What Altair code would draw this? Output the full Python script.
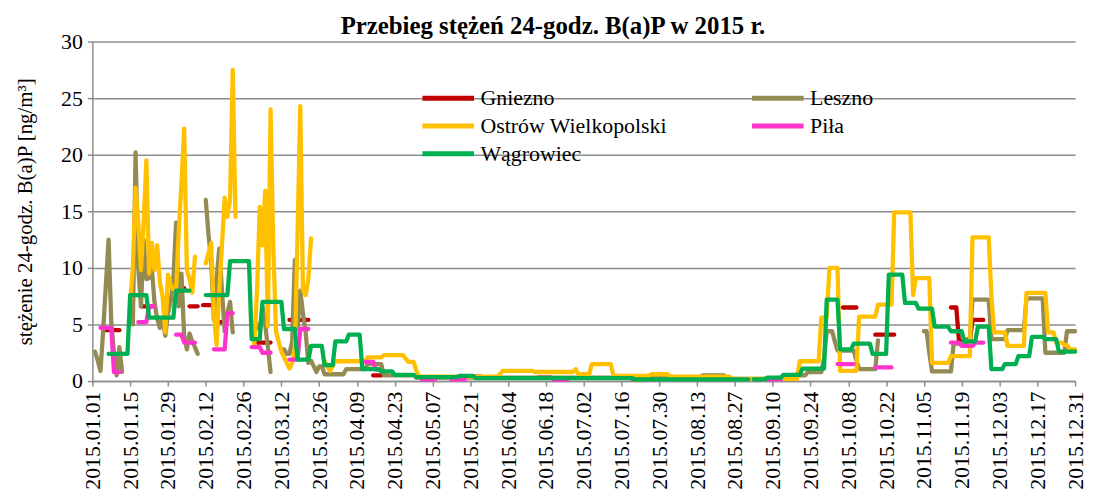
import json
import altair as alt
import pandas as pd

stations = ["Gniezno", "Leszno", "Ostrów Wielkopolski", "Piła", "Wągrowiec"]
colors = ["#C00000", "#948A54", "#FFC000", "#FF33CC", "#00B050"]

tick_days = list(range(0, 365, 14))
tick_labels = [
    "2015.01.01", "2015.01.15", "2015.01.29", "2015.02.12", "2015.02.26",
    "2015.03.12", "2015.03.26", "2015.04.09", "2015.04.23", "2015.05.07",
    "2015.05.21", "2015.06.04", "2015.06.18", "2015.07.02", "2015.07.16",
    "2015.07.30", "2015.08.13", "2015.08.27", "2015.09.10", "2015.09.24",
    "2015.10.08", "2015.10.22", "2015.11.05", "2015.11.19", "2015.12.03",
    "2015.12.17", "2015.12.31",
]
y_ticks = [0, 5, 10, 15, 20, 25, 30]

# each series: list of (first day of year index, daily values); gaps between runs
gniezno = [
    (4, [4.5] * 7),
    (18, [6.6] * 5),
    (31, [8.2] * 4),
    (36, [6.6] * 4),
    (41, [6.7] * 4),
    (46, [5.2] * 4),
    (61, [3.4] * 6),
    (73, [5.4] * 8),
    (104, [0.5] * 4),
    (140, [0.4] * 5),
    (165, [0.3] * 6),
    (200, [0.2] * 6),
    (278, [6.5] * 6),
    (290, [4.1] * 8),
    (318, [6.5] * 3 + [3.5] * 5 + [5.4] * 5),
]

leszno = [
    (1, [2.6, 1.8, 0.9, 4.5, 8.5, 12.5, 5.2, 2.5, 0.5, 3.0, 0.8]),
    (15, [5.0, 20.2, 10.0, 6.6, 12.5, 9.0, 9.1, 10.0, 7.0, 5.5, 4.7, 5.5, 4.0,
          6.0, 7.0, 9.0, 14.0, 6.6, 9.5, 4.0, 2.8, 4.2, 3.5, 3.0, 2.4]),
    (42, [16.0, 13.0, 10.7, 5.4, 9.0, 11.7, 8.0, 4.4, 6.0, 7.0, 4.3]),
    (60, [4.5, 5.0, 4.5, 6.6, 5.0, 3.0, 0.8]),
    (70, [2.8, 2.8, 2.4, 2.4, 3.5, 10.7, 4.6, 8.0, 6.0, 4.3, 1.6, 1.8, 1.3, 0.8, 1.3, 1.3]
     + [0.6] * 8 + [1.05] * 8 + [1.5] * 6 + [0.5] * 12 + [0.3] * 106 + [0.5] * 9
     + [0.2] * 24 + [0.5] * 6 + [0.8] * 6 + [2.0] + [4.4] * 3 + [3.5] + [2.7] * 7
     + [1.8] + [1.05] * 7 + [3.6]),
    (308, [4.4, 4.4, 2.5] + [0.85] * 8 + [3.3] * 5 + [3.7] * 2 + [7.2] * 7 + [3.7] * 6
     + [4.5] * 7 + [7.3] * 7 + [2.5] * 8 + [4.4] * 4),
]

ostrow = [
    (14, [7.0, 10.0, 17.1, 14.0, 9.8, 14.0, 19.5, 9.5, 12.2, 9.8, 12.0, 8.7, 7.5,
          4.3, 9.4, 8.5, 8.1, 8.0, 13.3, 17.5, 22.3, 9.8, 9.0, 7.8, 11.0]),
    (42, [10.4, 11.3, 12.2, 6.0, 3.2, 8.0, 12.0, 16.2, 14.5, 16.0, 27.5, 14.5]),
    (59, [4.6, 3.2, 8.0, 15.4, 12.0, 16.8, 4.8, 24.0, 12.0, 4.4, 3.5, 2.6, 2.1,
          1.6, 1.1, 1.6, 2.8, 13.0, 24.3, 8.1, 7.6, 9.0, 12.6]),
    (86, [1.8, 1.3, 0.9, 1.3] + [1.75] * 12 + [2.1] * 6 + [2.3] * 8 + [2.0] + [1.7] * 3
     + [0.9] + [0.4] * 30 + [0.6] + [0.9] * 12 + [0.8] * 15 + [1.05] + [0.6] * 5
     + [1.5] * 8 + [0.45] * 14 + [0.6] * 7 + [0.4] * 23 + [0.2] * 25 + [1.75] * 8
     + [5.6] * 3 + [10.0] * 4 + [0.9] * 7 + [5.7] * 7 + [6.75] * 6 + [14.9] * 7
     + [7.6] + [9.1] * 6 + [1.6] * 7 + [2.2] * 8 + [12.7] * 7 + [7.5] + [4.3] * 5
     + [3.1] * 7 + [7.8] * 8 + [4.3] * 3 + [3.4] * 3 + [3.2] * 2 + [2.8] * 3),
]

pila = [
    (3, [4.7] * 5 + [0.8] * 3),
    (17, [5.2] * 4 + [6.6] * 3),
    (31, [4.1] * 3 + [3.4] * 5),
    (45, [2.8] * 5 + [6.0] * 3),
    (59, [3.0] * 4 + [2.5] * 4),
    (73, [1.9] * 4 + [4.6] * 4),
    (101, [1.7] * 4 + [1.0] * 2),
    (122, [0.15] * 6),
    (133, [0.15] * 6),
    (171, [0.1] * 6),
    (250, [0.15] * 6),
    (276, [1.5] * 7),
    (290, [1.2] * 7),
    (318, [3.4] * 4 + [3.1] * 5 + [3.4] * 4),
]

wagrowiec = [
    (6, [2.4] * 8 + [7.6] * 7 + [5.6] * 10 + [8.0] * 6),
    (42, [7.6] * 9 + [10.6] * 8 + [3.7] * 4 + [7.0] * 8 + [4.6] * 5 + [1.9] * 5
     + [3.1] * 5 + [1.4] * 4 + [3.5] * 5 + [4.1] * 5 + [1.05] * 7 + [0.85] * 5
     + [0.55] * 8 + [0.35] * 16 + [0.45] * 6 + [0.25] * 59 + [0.15] * 43),
    (245, [0.15] * 5 + [0.3] * 6 + [0.55] * 7 + [1.1] * 9 + [7.2] * 5 + [2.8] * 5
     + [3.3] * 7 + [2.4] * 6 + [9.4] * 6 + [6.9] * 5 + [6.4] * 6 + [4.8] * 6
     + [4.4] * 5 + [3.5] * 5 + [4.8] * 5 + [1.05] * 5 + [1.5] * 5 + [2.2] * 5
     + [3.9] * 5 + [3.7] * 5 + [2.6] * 7),
]

series = [gniezno, leszno, ostrow, pila, wagrowiec]

rows = []
for name, segs in zip(stations, series):
    for k, (start, vals) in enumerate(segs):
        for i, v in enumerate(vals):
            rows.append({"station": name, "day": start + i, "value": v, "seg": k})
df = pd.DataFrame(rows)

FONT = "Liberation Serif"
GRAY = "#8C8C8C"

label_expr = json.dumps(tick_labels) + "[round(datum.value / 14)]"

x_enc = alt.X(
    "day:Q",
    scale=alt.Scale(domain=[0, 364], nice=False, zero=False),
    axis=alt.Axis(
        values=tick_days, labelExpr=label_expr, labelAngle=-90, title=None,
        tickSize=5, labelPadding=5, labelFontSize=22, labelOverlap=False,
        grid=False, labelFont=FONT, labelColor="black",
    ),
)
y_enc = alt.Y(
    "value:Q",
    scale=alt.Scale(domain=[0, 30], nice=False),
    axis=alt.Axis(
        values=y_ticks, title="stężenie 24-godz. B(a)P [ng/m³]",
        tickSize=5, labelPadding=5, labelFontSize=22, labelFont=FONT,
        labelColor="black", titleFont=FONT, titleFontSize=21,
        titleFontWeight="normal", titleColor="black", titlePadding=25,
        grid=True, gridColor=GRAY, gridWidth=1.5,
    ),
)
color_enc = alt.Color(
    "station:N",
    scale=alt.Scale(domain=stations, range=colors),
    legend=alt.Legend(
        orient="none", legendX=330, legendY=46, columns=2, direction="horizontal",
        title=None, symbolType="stroke", symbolSize=2704, symbolStrokeWidth=5,
        clipHeight=22, labelFont=FONT, labelFontSize=22, labelColor="black",
        labelLimit=400, columnPadding=83, rowPadding=6, labelOffset=4,
    ),
)

layers = []
for s in stations:
    layers.append(
        alt.Chart(df)
        .transform_filter(alt.datum.station == s)
        .mark_line(strokeWidth=4.3, strokeCap="round", strokeJoin="round")
        .encode(x=x_enc, y=y_enc, color=color_enc, detail="seg:N")
    )

chart = (
    alt.layer(*layers)
    .properties(
        width=990,
        height=342,
        title=alt.TitleParams(
            "Przebieg stężeń 24-godz. B(a)P w 2015 r.", font=FONT, fontSize=25,
            fontWeight="bold", color="black", anchor="middle", dx=-31, dy=16,
            offset=8,
        ),
        autosize=alt.AutoSizeParams(type="none"),
        padding={"left": 85, "top": 32, "right": 13, "bottom": 115},
    )
    .configure(font=FONT)
    .configure_legend(labelFont=FONT, labelFontSize=22, labelColor="black")
    .configure_view(stroke=None)
    .configure_axis(domainColor=GRAY, tickColor=GRAY, domainWidth=1.5, tickWidth=1.5)
)

chart.save("out.html", embed_options={"renderer": "svg", "actions": False})
